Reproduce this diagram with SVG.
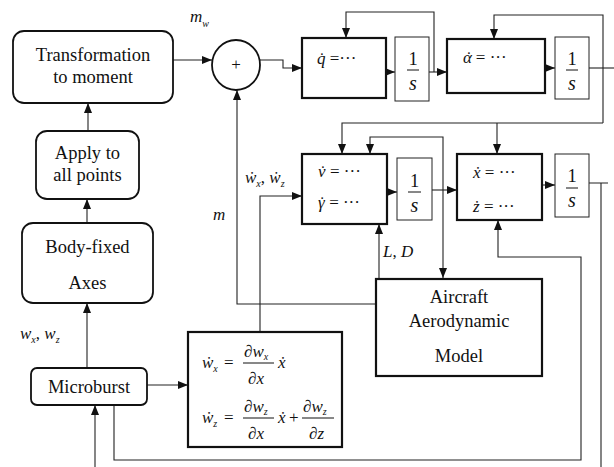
<svg xmlns="http://www.w3.org/2000/svg" width="614" height="467" viewBox="0 0 614 467">
<defs>
<marker id="ah" markerWidth="10" markerHeight="8" refX="10" refY="4" orient="auto" markerUnits="userSpaceOnUse"><path d="M0,0 L10,4 L0,8 z" fill="#111"/></marker>
<style>
.rb{fill:#fff;stroke:#111;stroke-width:1.8}
.tb{fill:#fff;stroke:#111;stroke-width:2.2}
.sb{fill:#fff;stroke:#222;stroke-width:1}
.c{fill:none;stroke:#222;stroke-width:1.1}
.a{fill:none;stroke:#222;stroke-width:1.1;marker-end:url(#ah)}
.t{font-size:18.5px;fill:#111;text-anchor:middle}
.m{font-size:17px;font-style:italic;fill:#111}
.n{font-size:17px;font-style:normal;fill:#111}
.s{font-size:10px;font-style:italic;fill:#111}
.f{font-size:20px;font-style:italic;fill:#111;text-anchor:middle}
.fl{stroke:#111;stroke-width:1}
</style>
</defs>
<g id="connectors">
<path class="a" d="M173,60 H212"/>
<path class="a" d="M88,131 V103"/>
<path class="a" d="M87,223 V199"/>
<path class="a" d="M87,368 V303"/>
<path class="a" d="M147,385 H188"/>
<path class="a" d="M95,467 V405"/>
<path class="a" d="M114,405 V460 H581 V257 H498 V220"/>
<path class="a" d="M260,60 H283 V68 H302"/>
<path class="a" d="M386,72 H395"/>
<path class="a" d="M429,72 H447"/>
<path class="a" d="M434,72 V12 H346 V38"/>
<path class="a" d="M545,68 H555"/>
<path class="c" d="M589,68 H614"/>
<path class="a" d="M603,123 V15 H494 V39"/>
<path class="a" d="M603,123 H342 V154"/>
<path class="a" d="M497,123 V154"/>
<path class="a" d="M387,192 H397"/>
<path class="a" d="M432,190 H457"/>
<path class="a" d="M443,190 V278"/>
<path class="a" d="M443,190 V137 H370 V154"/>
<path class="a" d="M542,185 H555"/>
<path class="c" d="M589,183 H608 M601,183 V467"/>
<path class="a" d="M379,279 V224"/>
<path class="a" d="M376,304 H237 V90"/>
<path class="a" d="M260,332 V196 H302"/>
</g>
<g id="transform"><rect class="rb" x="13" y="31" width="160" height="72" rx="11"/><text style="font-family:'Liberation Serif',serif" class="t" x="93" y="61">Transformation</text><text style="font-family:'Liberation Serif',serif" class="t" x="93" y="83">to moment</text></g>
<g id="apply"><rect class="rb" x="36" y="131" width="103" height="68" rx="11"/><text style="font-family:'Liberation Serif',serif" class="t" x="87.5" y="159">Apply to</text><text style="font-family:'Liberation Serif',serif" class="t" x="87.5" y="181">all points</text></g>
<g id="bodyfixed"><rect class="rb" x="22" y="223" width="131" height="80" rx="11"/><text style="font-family:'Liberation Serif',serif" class="t" x="87.5" y="253">Body-fixed</text><text style="font-family:'Liberation Serif',serif" class="t" x="87.5" y="289">Axes</text></g>
<g id="microburst"><rect class="rb" x="31" y="368" width="116" height="37" rx="6"/><text style="font-family:'Liberation Serif',serif" class="t" x="89" y="393">Microburst</text></g>
<g id="sum"><ellipse cx="236" cy="65" rx="24" ry="25" fill="#fff" stroke="#111" stroke-width="1.8"/><text style="font-family:'Liberation Serif',serif" class="n" x="236" y="70" text-anchor="middle" font-size="14">+</text></g>
<g id="qdot"><rect class="tb" x="302" y="38" width="84" height="60"/><text style="font-family:'Liberation Serif',serif" class="m" x="317" y="64">q̇<tspan class="n"> =···</tspan></text></g>
<g id="int1"><rect class="sb" x="395" y="37" width="34" height="64"/><text style="font-family:'Liberation Serif',serif" class="t" x="413" y="65" font-size="20">1</text><line class="fl" x1="407" y1="70" x2="419" y2="70"/><text style="font-family:'Liberation Serif',serif" class="f" x="413" y="90">s</text></g>
<g id="alphadot"><rect class="tb" x="447" y="39" width="98" height="54"/><text style="font-family:'Liberation Serif',serif" class="m" x="463" y="63">α<tspan dx="-7">˙</tspan><tspan class="n" dx="1"> = ···</tspan></text></g>
<g id="int2"><rect class="sb" x="555" y="37" width="34" height="62"/><text style="font-family:'Liberation Serif',serif" class="t" x="572" y="65" font-size="20">1</text><line class="fl" x1="566" y1="70" x2="578" y2="70"/><text style="font-family:'Liberation Serif',serif" class="f" x="572" y="90">s</text></g>
<g id="vdot"><rect class="tb" x="302" y="154" width="85" height="70"/><text style="font-family:'Liberation Serif',serif" class="m" x="318" y="177">v<tspan dx="-6.5">˙</tspan><tspan class="n" dx="1"> = ···</tspan></text><text style="font-family:'Liberation Serif',serif" class="m" x="318" y="208">γ<tspan dx="-6.5">˙</tspan><tspan class="n" dx="1"> = ···</tspan></text></g>
<g id="int3"><rect class="sb" x="397" y="158" width="35" height="62"/><text style="font-family:'Liberation Serif',serif" class="t" x="414.5" y="187" font-size="20">1</text><line class="fl" x1="408" y1="192" x2="421" y2="192"/><text style="font-family:'Liberation Serif',serif" class="f" x="414.5" y="212">s</text></g>
<g id="xdot"><rect class="tb" x="457" y="154" width="85" height="66"/><text style="font-family:'Liberation Serif',serif" class="m" x="473" y="178">ẋ<tspan class="n"> = ···</tspan></text><text style="font-family:'Liberation Serif',serif" class="m" x="473" y="212">ż<tspan class="n"> = ···</tspan></text></g>
<g id="int4"><rect class="sb" x="555" y="154" width="34" height="63"/><text style="font-family:'Liberation Serif',serif" class="t" x="572" y="182" font-size="20">1</text><line class="fl" x1="566" y1="188" x2="578" y2="188"/><text style="font-family:'Liberation Serif',serif" class="f" x="572" y="207">s</text></g>
<g id="aircraft"><rect class="tb" x="376" y="279" width="166" height="97"/><text style="font-family:'Liberation Serif',serif" class="t" x="459" y="303">Aircraft</text><text style="font-family:'Liberation Serif',serif" class="t" x="459" y="327">Aerodynamic</text><text style="font-family:'Liberation Serif',serif" class="t" x="459" y="362">Model</text></g>
<g id="windeq"><rect class="tb" x="188" y="332" width="154" height="115"/>
<text style="font-family:'Liberation Serif',serif" class="m" x="202" y="368">ẇ<tspan class="s" dy="4">x</tspan></text>
<text style="font-family:'Liberation Serif',serif" class="n" x="224" y="368">=</text>
<text style="font-family:'Liberation Serif',serif" class="m" x="244" y="357">∂w<tspan class="s" dy="3">x</tspan></text>
<line class="fl" x1="243" y1="363" x2="274" y2="363"/>
<text style="font-family:'Liberation Serif',serif" class="m" x="248" y="384">∂x</text>
<text style="font-family:'Liberation Serif',serif" class="m" x="278" y="368">ẋ</text>
<text style="font-family:'Liberation Serif',serif" class="m" x="202" y="423">ẇ<tspan class="s" dy="4">z</tspan></text>
<text style="font-family:'Liberation Serif',serif" class="n" x="224" y="423">=</text>
<text style="font-family:'Liberation Serif',serif" class="m" x="244" y="412">∂w<tspan class="s" dy="3">z</tspan></text>
<line class="fl" x1="243" y1="418" x2="274" y2="418"/>
<text style="font-family:'Liberation Serif',serif" class="m" x="248" y="439">∂x</text>
<text style="font-family:'Liberation Serif',serif" class="m" x="278" y="423">ẋ</text>
<text style="font-family:'Liberation Serif',serif" class="n" x="289" y="423">+</text>
<text style="font-family:'Liberation Serif',serif" class="m" x="303" y="412">∂w<tspan class="s" dy="3">z</tspan></text>
<line class="fl" x1="302" y1="418" x2="334" y2="418"/>
<text style="font-family:'Liberation Serif',serif" class="m" x="309" y="439">∂z</text>
</g>
<g id="labels">
<text style="font-family:'Liberation Serif',serif" class="m" x="190" y="22">m<tspan class="s" dy="5">w</tspan></text>
<text style="font-family:'Liberation Serif',serif" class="m" x="213" y="220">m</text>
<text style="font-family:'Liberation Serif',serif" class="m" x="383" y="257">L<tspan class="n">, </tspan>D</text>
<text style="font-family:'Liberation Serif',serif" class="m" x="245" y="183">ẇ<tspan class="s" dy="4">x</tspan><tspan class="n" dy="-4">, </tspan>ẇ<tspan class="s" dy="4">z</tspan></text>
<text style="font-family:'Liberation Serif',serif" class="m" x="20" y="339">w<tspan class="s" dy="4">x</tspan><tspan class="n" dy="-4">, </tspan>w<tspan class="s" dy="4">z</tspan></text>
</g>
</svg>
